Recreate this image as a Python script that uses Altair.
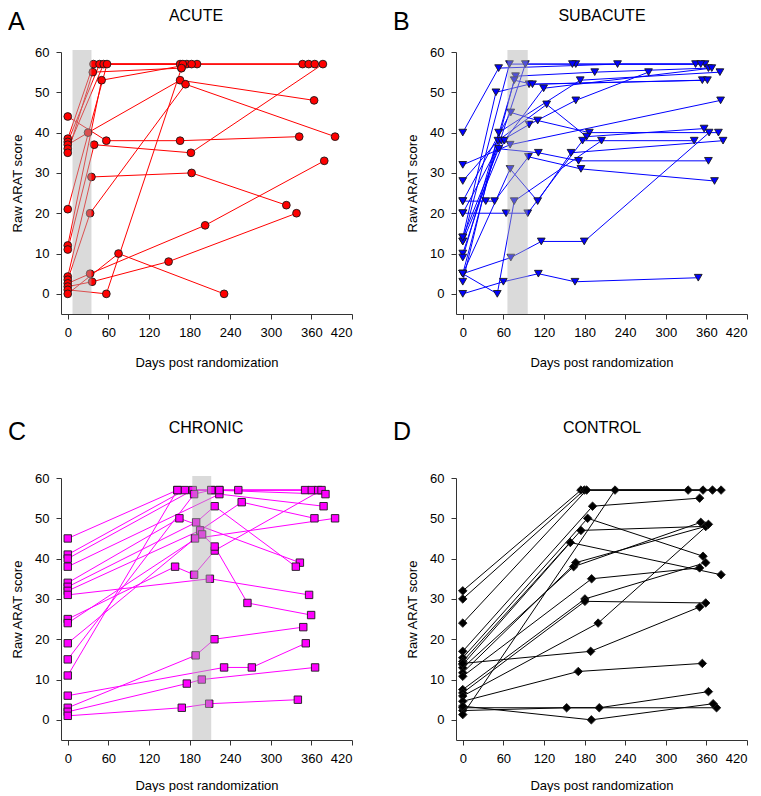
import altair as alt
import pandas as pd

FONT = "Liberation Sans"

# ---------------- data (days post randomization, raw ARAT score) ----------------
ACUTE_DAYS = [
    [0, 57, 166, 342], [0, 38, 166, 347], [0, 47, 176, 356], [0, 30, 166, 364],
    [0, 53, 191, 365], [0, 37, 168], [0, 58, 170], [0, 50, 183],
    [0, 39, 182, 377], [0, 35, 183, 323], [0, 33, 174, 395], [0, 33, 203, 379],
    [0, 36, 149, 338], [0, 57, 168], [0, 75, 231],
]
ACUTE_SCORES = [
    [44, 38, 38, 39], [38.5, 57, 57, 57], [37.7, 57, 57, 57], [37, 40, 53, 48],
    [36, 57, 57, 57], [35, 55, 56], [21, 57, 57], [12, 53, 57],
    [11, 37, 35, 57], [4.3, 29, 30, 22], [3.5, 20, 52, 39], [2.6, 5, 17, 33],
    [1.8, 3, 8, 20], [1, 0, 56], [0, 10, 0],
]

SUBACUTE_DAYS = [
    [0, 53, 228.7, 358], [0, 49, 98, 354], [0, 69, 167, 344], [0, 92.5, 162, 351.7],
    [0, 78, 195, 363], [0, 76, 103, 361.5], [0, 71, 110.7, 187, 377.8], [0, 70, 381],
    [0, 52, 124, 183, 356.6], [0, 57, 98, 167, 274.5], [0, 61.5, 119.5, 368],
    [0, 53, 111.7, 171, 363], [0, 34, 47, 97, 174.6, 372], [0, 70, 110.7, 160, 384.6],
    [0, 64, 96, 177, 342], [0, 71, 116, 179.5, 364], [0, 51, 76, 205],
    [0, 60, 111.7, 165.8, 348], [0, 53, 173.6, 380],
]
SUBACUTE_SCORES = [
    [40, 56, 57, 57], [14, 50, 52, 53], [13, 57, 57, 57], [10, 57, 57, 57],
    [9, 54, 55, 56], [5, 53, 52, 53], [23, 45, 43, 40, 40], [32, 37, 48],
    [28, 38, 47, 39, 41], [20, 38, 42, 48, 55], [13, 38, 51, 56],
    [14, 36, 35, 33, 33], [23, 23, 23, 34, 31, 28], [5, 31, 23, 35, 38],
    [20, 20, 20, 38, 38], [5, 9, 13, 13, 40], [5, 0, 23, 38],
    [0, 3, 5, 3, 4], [3, 40, 53, 55],
]

CHRONIC_DAYS = [
    [0, 162, 212, 350.7], [0, 173, 224, 360.6], [0, 184.7, 252, 370], [0, 224, 378],
    [0, 165, 343], [0, 189.7, 217, 337], [0, 195.6, 257, 364.5], [0, 210, 356.6],
    [0, 158.6, 186.7, 217, 375], [0, 198.5, 217, 265.5, 359.6], [0, 188, 395],
    [0, 186.7, 212, 380.8], [0, 162, 224], [0, 231, 272, 351.7],
    [0, 189, 216.7, 348], [0, 175.9, 198, 365.5], [0, 168.5, 209, 340],
]
CHRONIC_SCORES = [
    [45, 57, 57, 57], [41, 57, 57, 57], [40, 57, 57, 57], [38, 56, 53],
    [34, 50, 39], [33, 49, 53, 38], [32, 47, 54, 50], [31, 35, 31],
    [25, 38, 36, 42, 57], [24, 46, 43, 29, 26], [19, 45, 50],
    [15, 56, 57, 56], [11, 57, 57], [6, 13, 13, 19],
    [3, 16, 20, 23], [2, 9, 10, 13], [1, 3, 4, 5],
]

CONTROL_DAYS = [
    [0, 174.6, 333], [0, 179.5, 355], [0, 183, 369], [0, 191.8, 350],
    [0, 184.5, 355], [0, 174.6, 359], [0, 158.9, 381.7], [0, 163.8, 351.7],
    [0, 167, 359], [0, 190.4, 350], [0, 180.5, 359], [0, 180.5, 359],
    [0, 200, 363], [0, 189, 350], [0, 170.7, 354], [0, 153.5, 375],
    [0, 201.7, 363], [0, 190, 370], [0, 225, 381.7],
]
CONTROL_SCORES = [
    [32, 57, 57], [30, 57, 57], [24, 57, 57], [17, 53, 55],
    [15.4, 50, 40.6], [14.5, 47, 48], [13.7, 44, 36], [12.9, 38, 49],
    [11.7, 39, 48], [10.8, 35, 37.7], [7.5, 30, 39], [6.7, 29.4, 29],
    [5.9, 24, 48.5], [14, 17, 28], [4.6, 12, 14], [2.3, 3, 3],
    [3, 3, 7], [3.4, 0, 4], [1.3, 57, 57],
]

# intervention windows (grey bands), days
ACUTE_BAND = [7, 35]
SUBACUTE_BAND = [66, 96]
CHRONIC_BAND = [184, 212]

X_TICKS = [0, 60, 120, 180, 240, 300, 360, 420]
Y_TICKS = [0, 10, 20, 30, 40, 50, 60]

W, H = 291, 262


def panel(title, letter, days, scores, color, shape, band,
          title_x, title_y, letter_x, letter_y, xtitle_pad, size):
    rows = []
    for pid, (ds, ss) in enumerate(zip(days, scores)):
        for k, (d, s) in enumerate(zip(ds, ss)):
            rows.append({"pid": pid, "k": k, "day": d, "score": s})
    df = pd.DataFrame(rows)

    xs = alt.Scale(domain=[-10, 420], nice=False, zero=False)
    ys = alt.Scale(domain=[-5, 60], nice=False, zero=False)
    xaxis = alt.Axis(values=X_TICKS, title="Days post randomization", grid=False,
                     tickSize=5, labelPadding=7, titlePadding=xtitle_pad)
    yaxis = alt.Axis(values=Y_TICKS, title="Raw ARAT score", grid=False,
                     tickSize=5, labelPadding=7, titlePadding=10)

    base = alt.Chart(df)
    lines = base.mark_line(color=color, strokeWidth=1).encode(
        x=alt.X("day:Q", scale=xs, axis=xaxis),
        y=alt.Y("score:Q", scale=ys, axis=yaxis),
        detail="pid:N",
        order="k:Q",
    )
    pts = base.mark_point(filled=True, shape=shape, size=size, fill=color,
                          stroke="#1a1a1a", strokeWidth=0.9, opacity=1).encode(
        x=alt.X("day:Q", scale=xs, axis=xaxis),
        y=alt.Y("score:Q", scale=ys, axis=yaxis),
    )
    layers = [lines, pts]
    if band is not None:
        bdf = pd.DataFrame({"day": [band[0]], "day2": [band[1]]})
        rect = alt.Chart(bdf).mark_rect(color="#aeaeae", opacity=0.46).encode(
            x=alt.X("day:Q", scale=xs, axis=xaxis),
            x2="day2:Q",
            y=alt.value(-2),
            y2=alt.value(H),
        )
        layers.append(rect)
    tdf = pd.DataFrame({"t": [title]})
    ttl = alt.Chart(tdf).mark_text(fontSize=16, font=FONT, align="center",
                                   baseline="alphabetic", color="black").encode(
        text="t:N", x=alt.value(title_x), y=alt.value(title_y))
    ldf = pd.DataFrame({"t": [letter]})
    let = alt.Chart(ldf).mark_text(fontSize=25, font=FONT, align="left",
                                   baseline="alphabetic", color="black").encode(
        text="t:N", x=alt.value(letter_x), y=alt.value(letter_y))
    layers += [ttl, let]
    return alt.layer(*layers).properties(width=W, height=H)


A = panel("ACUTE", "A", ACUTE_DAYS, ACUTE_SCORES, "#ff0000", "circle", ACUTE_BAND,
          135, -31, -53, -22, 17, 60)
B = panel("SUBACUTE", "B", SUBACUTE_DAYS, SUBACUTE_SCORES, "#0000ff", "triangle-down",
          SUBACUTE_BAND, 146, -31, -63, -22, 17, 60)
C = panel("CHRONIC", "C", CHRONIC_DAYS, CHRONIC_SCORES, "#ff00ff", "square", CHRONIC_BAND,
          145, -45, -53, -38.5, 14, 55)
D = panel("CONTROL", "D", CONTROL_DAYS, CONTROL_SCORES, "#000000", "diamond", None,
          146, -45, -63, -38.5, 14, 72)

chart = alt.vconcat(
    alt.hconcat(A, B, spacing=40),
    alt.hconcat(C, D, spacing=40),
    spacing=50,
).properties(
    padding={"left": 0, "top": 0, "right": 0, "bottom": 0},
    background="white",
).configure_view(stroke=None).configure_axis(
    labelFont=FONT, titleFont=FONT, labelFontSize=13, titleFontSize=13,
    titleFontWeight="normal", labelColor="black", titleColor="black",
    domainColor="#333333", tickColor="#333333",
)

chart.save("out.html", embed_options={"renderer": "svg", "actions": False})
